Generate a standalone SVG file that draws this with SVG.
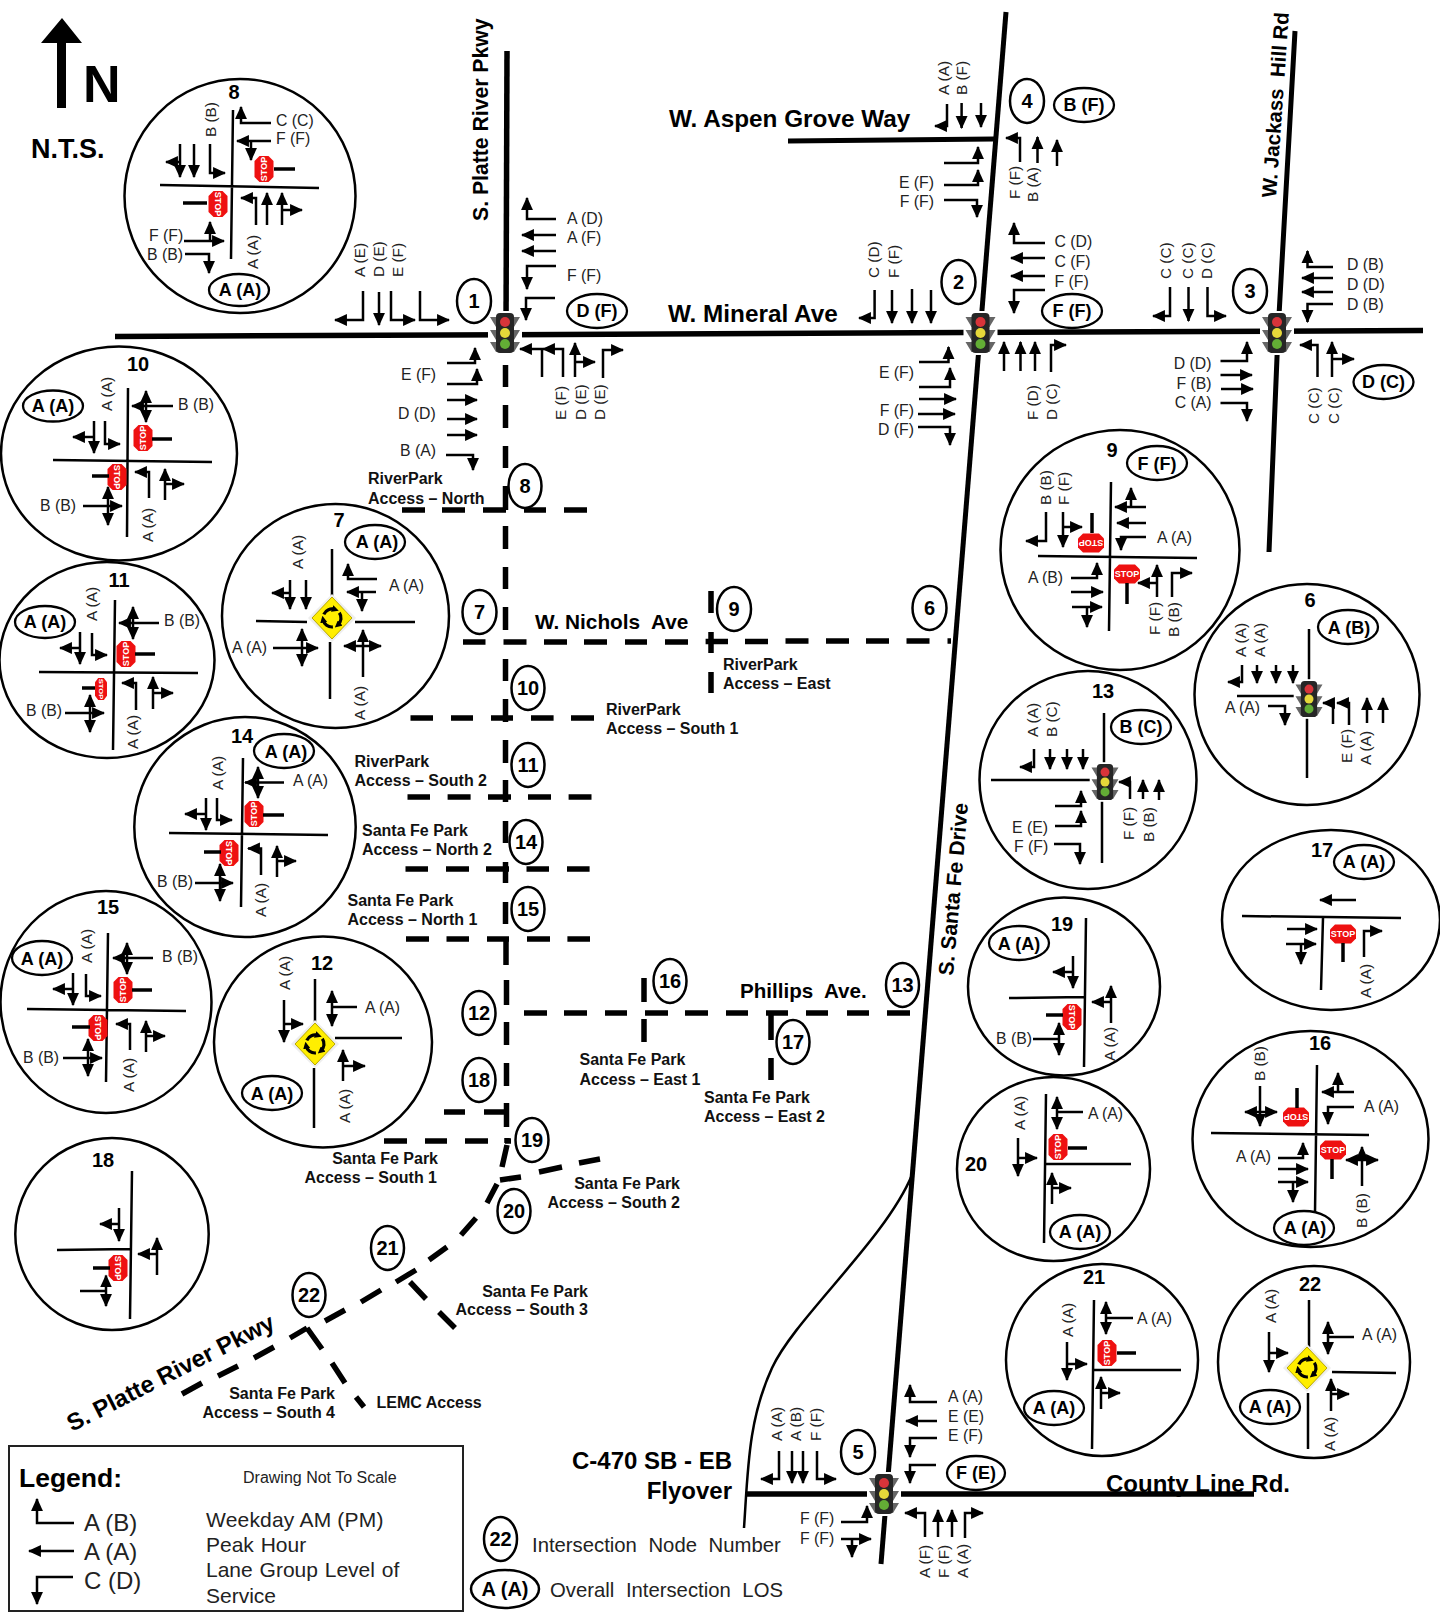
<svg xmlns="http://www.w3.org/2000/svg" width="1440" height="1612" viewBox="0 0 1440 1612">
<style>
text{font-family:"Liberation Sans",Arial,sans-serif;fill:#222}
.t{font-size:15.8px}
.e{font-size:15.8px;text-anchor:end}
.v{font-size:15.3px}
.b{font-size:16px;font-weight:bold;fill:#111}
.be{font-size:16px;font-weight:bold;fill:#111;text-anchor:end}
.los{font-size:18px;font-weight:bold;text-anchor:middle;fill:#000}
.nd{font-size:20px;font-weight:bold;text-anchor:middle;fill:#000}
.rn{font-weight:bold;fill:#000}
.lg{font-size:21px}
.st{font-size:9px;font-weight:bold;fill:#fff;text-anchor:middle;dominant-baseline:central}
.a{fill:none;stroke:#000;stroke-width:2.5;marker-end:url(#h)}
.d{fill:none;stroke:#000;stroke-width:2.5;marker-end:url(#h);marker-start:url(#h)}
.r{fill:none;stroke:#000;stroke-width:2.5}
.p{fill:none;stroke:#000;stroke-width:3.5}
.o{fill:none;stroke:#000;stroke-width:2.3}
.c{fill:none;stroke:#000;stroke-width:2.5}
.f{fill:#fff;stroke:#000;stroke-width:2.5}
.m{fill:none;stroke:#000;stroke-width:5.5}
.da{fill:none;stroke:#000;stroke-width:5.5}
</style>
<defs>
<marker id="h" markerUnits="userSpaceOnUse" markerWidth="13" markerHeight="13" viewBox="0 0 12 12" refX="11" refY="6" orient="auto-start-reverse"><path d="M0,.5L12,6L0,11.5z"/></marker>
<marker id="mh" markerUnits="userSpaceOnUse" markerWidth="7" markerHeight="7" viewBox="0 0 7 7" refX="3" refY="3.5" orient="auto"><path d="M0,0L7,3.5L0,7z"/></marker>
<polygon id="oc" fill="#ee1111" points="-13,-4.5 -8,-9.5 8,-9.5 13,-4.5 13,4.5 8,9.5 -8,9.5 -13,4.5"/>
<g id="tl">
<rect x="-17" y="-22" width="34" height="44" fill="#fff"/>
<path d="M-15,-16H15L9,-6H-9zM-15,-3H15L9,7H-9zM-15,9H15L9,19H-9z" fill="#666"/>
<rect x="-9" y="-20" width="18" height="40" rx="4" fill="#262626"/>
<circle cy="-11" r="5" fill="#d8343a"/><circle cy="0" r="5" fill="#e6d83a"/><circle cy="11" r="5" fill="#63ad35"/>
</g>
<path id="ra" d="M-8.2,-3.7A9,9 0 0 1 3,-8.5" fill="none" stroke="#000" stroke-width="3.2" marker-end="url(#mh)"/>
<g id="rb">
<polygon points="0,-24 24,0 0,24 -24,0" fill="#eee"/>
<polygon points="0,-21 20,0 0,21 -20,0" fill="#ffee00" stroke="#b9a800"/>
<use href="#ra"/><use href="#ra" transform="rotate(120)"/><use href="#ra" transform="rotate(240)"/>
</g>
</defs>
<rect width="1440" height="1612" fill="#fff"/>

<g id="north">
<path d="M62,18L82,43H66V108H57V43H41z"/>
<text class="rn" x="83" y="102" style="font-size:52px">N</text>
<text class="rn" x="31" y="158" style="font-size:27px">N.T.S.</text>
</g>

<text class="rn" transform="translate(1106,1492)" style="font-size:24px">County Line Rd.</text>

<g id="connectors">
<path class="m" d="M115,336.5L1423,330.5" />
<path class="m" d="M507,51L506,330"/>
<path class="m" d="M1006,12L881,1564" style="stroke-width:5"/>
<path class="m" d="M1295,31L1278,333L1269,552" style="stroke-width:5"/>
<path class="m" d="M788,141L994,139" style="stroke-width:5"/>
<path class="m" d="M747,1494H1254"/>
<path class="r" d="M744,1528C748,1470 748,1420 772,1368C795,1318 885,1240 912,1175"/>
<path class="da" d="M505.5,365V387M505.5,405V428M505.5,446V468M505.5,486V510M505.5,526V549M505.5,567V589M505.5,607V630M505.5,659V681M505.5,699V722M505.5,740V763M505.5,780V802M505.5,821V843M505.5,862V883M505.5,902V924M506,939V965M506.5,980V1005M506.5,1022V1045M506.5,1063V1086M506.5,1103V1127M507,1138V1143M507,1145L502,1167"/>
<path class="da" d="M402,510H425M442,510H465M483,510H506M524,510H546M564,510H587"/>
<path class="da" d="M463,642H485.5M503.5,642H526.5M544,642H567M584,642H607M625,642H647M665,642H688M705.6,641.500H728M745,641.500H768M785.5,641H808.500M826,641H849M866,641H889M906.500,641H929.500M947.500,641H951"/>
<path class="da" d="M711,591V613M711,632V653M711,672V693"/>
<path class="da" d="M410.500,718H433M451,718H473M491,718H513M531,718H553.600M571,718H594"/>
<path class="da" d="M407.500,797H430M447.600,797H470.600M488,797H511M528,797H551M568.600,797H591.500"/>
<path class="da" d="M405.500,869H428M446,869H469M486,869H509M526.500,869H549M567,869H589.600"/>
<path class="da" d="M406,939H429M446.500,939H469M487,939H509M527,939H550M567.400,939H590"/>
<path class="da" d="M524,1013H547M564,1013H587M605,1013H627M645,1013H668M685,1013H708M726,1013H748M766,1013H788M806,1013H828M847,1013H869M887,1013H910"/>
<path class="da" d="M644,978V1002M644,1019V1042"/>
<path class="da" d="M771,1014V1040M771,1058V1080"/>
<path class="da" d="M444,1112H465M484,1112H506"/>
<path class="da" d="M384,1141H407M425,1141H447M465,1141H488M505,1141H511"/>
<path class="da" d="M500,1180L521,1177M539,1172L562,1167M579,1163L600,1159"/>
<path class="da" d="M497,1184L487,1203M476,1218L461,1235M447,1247L429,1260M416,1270L396,1282M381,1290L361,1302M345,1310L325,1321M307,1328L290,1338M274,1347L254,1358M238,1366L218,1376M202,1383L182,1394"/>
<path class="da" d="M307,1328L322,1349M332,1363L345,1383M356,1397L364,1407"/>
<path class="da" d="M410,1282L426,1299M439,1312L455,1328"/>
</g>

<g id="road-labels">
<text class="rn" transform="translate(488,221) rotate(-90)" style="font-size:21.2px">S. Platte River Pkwy</text>
<text class="rn" x="668" y="322" style="font-size:24.3px">W. Mineral Ave</text>
<text class="rn" x="669" y="127" style="font-size:24.3px">W. Aspen Grove Way</text>
<text class="rn" transform="translate(1276,198) rotate(-86)" style="font-size:20.5px" xml:space="preserve">W. Jackass  Hill Rd</text>
<text class="rn" transform="translate(953,976) rotate(-85)" style="font-size:21.2px">S. Santa Fe Drive</text>
<text class="rn" x="535" y="629" style="font-size:20.8px" xml:space="preserve">W. Nichols  Ave</text>
<text class="rn" x="740" y="998" style="font-size:20.6px" xml:space="preserve">Phillips  Ave.</text>
<text class="rn" transform="translate(72,1432) rotate(-27)" style="font-size:24px">S. Platte River Pkwy</text>
<text class="rn" x="732" y="1469" text-anchor="end" style="font-size:24px">C-470 SB - EB</text>
<text class="rn" x="732" y="1499" text-anchor="end" style="font-size:24px">Flyover</text>
<text class="b" x="368" y="484">RiverPark</text><text class="b" x="368" y="504">Access – North</text>
<text class="b" x="723" y="670">RiverPark</text><text class="b" x="723" y="689">Access – East</text>
<text class="b" x="606" y="715">RiverPark</text><text class="b" x="606" y="734">Access – South 1</text>
<text class="b" x="354.500" y="767">RiverPark</text><text class="b" x="354.500" y="786">Access – South 2</text>
<text class="b" x="362" y="836">Santa Fe Park</text><text class="b" x="362" y="855">Access – North 2</text>
<text class="b" x="347.500" y="906">Santa Fe Park</text><text class="b" x="347.500" y="925">Access – North 1</text>
<text class="b" x="579.500" y="1065">Santa Fe Park</text><text class="b" x="579.500" y="1085">Access – East 1</text>
<text class="b" x="704" y="1103">Santa Fe Park</text><text class="b" x="704" y="1122">Access – East 2</text>
<text class="be" x="438" y="1164">Santa Fe Park</text><text class="be" x="437" y="1183">Access – South 1</text>
<text class="be" x="680" y="1189">Santa Fe Park</text><text class="be" x="680" y="1208">Access – South 2</text>
<text class="be" x="588" y="1297">Santa Fe Park</text><text class="be" x="588" y="1315">Access – South 3</text>
<text class="be" x="335" y="1399">Santa Fe Park</text><text class="be" x="335" y="1418">Access – South 4</text>
<text class="b" x="376.500" y="1408">LEMC Access</text>
</g>

<g id="lights">
<use href="#tl" transform="translate(505,333)"/>
<use href="#tl" transform="translate(980.500,333)"/>
<use href="#tl" transform="translate(1277,333)"/>
<use href="#tl" transform="translate(884,1494)"/>
</g>

<g id="n1"><ellipse class="f" cx="474" cy="301" rx="17" ry="22"/><text class="nd" x="474" y="308">1</text></g>
<g id="n2"><ellipse class="f" cx="958.500" cy="282" rx="17" ry="22"/><text class="nd" x="958.500" y="289">2</text></g>
<g id="n3"><ellipse class="f" cx="1250" cy="291" rx="17" ry="22"/><text class="nd" x="1250" y="298">3</text></g>
<g id="n4"><ellipse class="f" cx="1027" cy="101" rx="17" ry="22"/><text class="nd" x="1027" y="108">4</text></g>
<g id="n5"><ellipse class="f" cx="858" cy="1452" rx="17" ry="22"/><text class="nd" x="858" y="1459">5</text></g>
<g id="n6"><ellipse class="f" cx="929.500" cy="608" rx="17" ry="22"/><text class="nd" x="929.500" y="615">6</text></g>
<g id="n7"><ellipse class="f" cx="479.500" cy="612" rx="17" ry="22"/><text class="nd" x="479.500" y="619">7</text></g>
<g id="n8"><ellipse class="f" cx="525" cy="486" rx="16.500" ry="22"/><text class="nd" x="525" y="493">8</text></g>
<g id="n9"><ellipse class="f" cx="734" cy="609" rx="17" ry="22"/><text class="nd" x="734" y="616">9</text></g>
<g id="n10"><ellipse class="f" cx="528" cy="688" rx="16.500" ry="22"/><text class="nd" x="528" y="695">10</text></g>
<g id="n11"><ellipse class="f" cx="528" cy="765" rx="16.500" ry="22"/><text class="nd" x="528" y="772">11</text></g>
<g id="n12"><ellipse class="f" cx="479" cy="1013" rx="16.500" ry="22"/><text class="nd" x="479" y="1020">12</text></g>
<g id="n13"><ellipse class="f" cx="902.500" cy="985" rx="16.500" ry="22"/><text class="nd" x="902.500" y="992">13</text></g>
<g id="n14"><ellipse class="f" cx="526" cy="842" rx="16.500" ry="22"/><text class="nd" x="526" y="849">14</text></g>
<g id="n15"><ellipse class="f" cx="528" cy="909" rx="16.500" ry="22"/><text class="nd" x="528" y="916">15</text></g>
<g id="n16"><ellipse class="f" cx="670" cy="981" rx="16.500" ry="22"/><text class="nd" x="670" y="988">16</text></g>
<g id="n17"><ellipse class="f" cx="793" cy="1042" rx="16.500" ry="22"/><text class="nd" x="793" y="1049">17</text></g>
<g id="n18"><ellipse class="f" cx="479" cy="1080" rx="16.500" ry="22"/><text class="nd" x="479" y="1087">18</text></g>
<g id="n19"><ellipse class="f" cx="532" cy="1140" rx="16.500" ry="22"/><text class="nd" x="532" y="1147">19</text></g>
<g id="n20"><ellipse class="f" cx="514" cy="1211" rx="16.500" ry="22"/><text class="nd" x="514" y="1218">20</text></g>
<g id="n21"><ellipse class="f" cx="387.500" cy="1248" rx="16.500" ry="22"/><text class="nd" x="387.500" y="1255">21</text></g>
<g id="n22"><ellipse class="f" cx="309" cy="1295" rx="16.500" ry="22"/><text class="nd" x="309" y="1302">22</text></g>

<g id="map-i1">
<path class="a" d="M556 219H527V198"/><path class="a" d="M556 235H522"/><path class="a" d="M556 251H522"/><path class="a" d="M556 266H527V289"/><path class="a" d="M555 298H526V320"/>
<text class="t" x="567" y="224">A (D)</text><text class="t" x="567" y="243">A (F)</text><text class="t" x="567" y="281">F (F)</text>
<ellipse class="o" cx="597" cy="311" rx="30" ry="17"/><text class="los" x="597" y="317">D (F)</text>
<path class="a" d="M363 291V320H335"/><path class="a" d="M379 292V325"/><path class="a" d="M391 291V320H415"/><path class="a" d="M420 291V320H449"/>
<text class="v" transform="translate(365,277) rotate(-90)">A (E)</text><text class="v" transform="translate(384,277) rotate(-90)">D (E)</text><text class="v" transform="translate(403,277) rotate(-90)">E (F)</text>
<path class="a" d="M542 377V349H520"/><path class="a" d="M563 377V349H543"/><path class="a" d="M575 377V343"/><path class="a" d="M575 362H595"/><path class="a" d="M603 378V350H623"/>
<text class="v" transform="translate(566,420) rotate(-90)">E (F)</text><text class="v" transform="translate(586,420) rotate(-90)">D (E)</text><text class="v" transform="translate(605,420) rotate(-90)">D (E)</text>
<path class="a" d="M447 363H475V348"/><path class="a" d="M447 384H477V369"/><path class="a" d="M447 400H477"/><path class="a" d="M447 419H477"/><path class="a" d="M447 435H477"/><path class="a" d="M446 455H473V470"/>
<text class="t" x="401" y="380">E (F)</text><text class="t" x="398" y="419">D (D)</text><text class="t" x="400" y="456">B (A)</text>
</g>

<g id="map-i2">
<text class="v" transform="translate(879,278) rotate(-90)">C (D)</text><text class="v" transform="translate(899,278) rotate(-90)">F (F)</text>
<path class="a" d="M874.600 290V318H859"/><path class="a" d="M892 290V323"/><path class="a" d="M912 289V323"/><path class="a" d="M931 290V323"/>
<path class="a" d="M1045 243H1014V223"/><path class="a" d="M1045 258H1011"/><path class="a" d="M1045 276H1011"/><path class="a" d="M1045 290H1014V313"/>
<text class="t" x="1054.500" y="247">C (D)</text><text class="t" x="1054.500" y="267">C (F)</text><text class="t" x="1054.500" y="287">F (F)</text>
<ellipse class="o" cx="1072" cy="311" rx="30" ry="17"/><text class="los" x="1072" y="317">F (F)</text>
<path class="a" d="M1004 371V342"/><path class="a" d="M1020.500 371V342"/><path class="a" d="M1035 371V342"/><path class="a" d="M1051 372V345H1066"/>
<text class="v" transform="translate(1038,420) rotate(-90)">F (D)</text><text class="v" transform="translate(1057,420) rotate(-90)">D (C)</text>
<path class="a" d="M919 362H948.500V347"/><path class="a" d="M919 387H950V368"/><path class="a" d="M919 399H956"/><path class="a" d="M918 414H955"/><path class="a" d="M918 427H950V445"/>
<text class="e" x="914" y="378">E (F)</text><text class="e" x="914" y="416">F (F)</text><text class="e" x="914" y="435">D (F)</text>
</g>

<g id="map-i3">
<path class="a" d="M1170 287V316H1153"/><path class="a" d="M1188.500 287V321"/><path class="a" d="M1207.500 287V316H1226"/>
<text class="v" transform="translate(1171,279) rotate(-90)">C (C)</text><text class="v" transform="translate(1193,279) rotate(-90)">C (C)</text><text class="v" transform="translate(1211.500,279) rotate(-90)">D (C)</text>
<path class="a" d="M1333 267H1307.500V251"/><path class="a" d="M1333 278H1302"/><path class="a" d="M1333 292H1302"/><path class="a" d="M1333 304H1307.500V322"/>
<text class="t" x="1347" y="270">D (B)</text><text class="t" x="1347" y="290">D (D)</text><text class="t" x="1347" y="310">D (B)</text>
<path class="a" d="M1317.500 377V345H1300"/><path class="a" d="M1332 377V342"/><path class="a" d="M1332 359H1354"/>
<text class="v" transform="translate(1319,424) rotate(-90)">C (C)</text><text class="v" transform="translate(1339,424) rotate(-90)">C (C)</text>
<ellipse class="o" cx="1383.500" cy="382" rx="30" ry="17"/><text class="los" x="1383.500" y="388">D (C)</text>
<path class="a" d="M1220.500 361H1247V342"/><path class="a" d="M1220.500 375H1252"/><path class="a" d="M1221 389H1253"/><path class="a" d="M1220.500 403H1247V421"/>
<text class="e" x="1211.500" y="369">D (D)</text><text class="e" x="1211.500" y="389">F (B)</text><text class="e" x="1211.500" y="408">C (A)</text>
</g>

<g id="map-i4">
<path class="a" d="M947 104V126H935"/><path class="a" d="M961.600 103V128"/><path class="a" d="M981 103V127"/>
<text class="v" transform="translate(949,95) rotate(-90)">A (A)</text><text class="v" transform="translate(967,95) rotate(-90)">B (F)</text>
<ellipse class="o" cx="1084" cy="105" rx="30" ry="17"/><text class="los" x="1084" y="111">B (F)</text>
<path class="a" d="M1020 162V138H1006"/><path class="a" d="M1037.500 163V137"/><path class="a" d="M1057 166V140"/>
<text class="v" transform="translate(1020,199) rotate(-90)">F (F)</text><text class="v" transform="translate(1038,202) rotate(-90)">B (A)</text>
<path class="a" d="M944 163H978V147"/><path class="a" d="M944 185H978V170"/><path class="a" d="M944 200H977V217"/>
<text class="e" x="934" y="188">E (F)</text><text class="e" x="934" y="207">F (F)</text>
</g>

<g id="map-i5">
<path class="a" d="M937 1402H910V1385"/><path class="a" d="M937 1421H906"/><path class="a" d="M937 1438H910V1457"/><path class="a" d="M936 1465H910V1483"/>
<text class="t" x="948" y="1402">A (A)</text><text class="t" x="948" y="1422">E (E)</text><text class="t" x="948" y="1441">E (F)</text>
<ellipse class="o" cx="976" cy="1473" rx="29" ry="17"/><text class="los" x="976" y="1479">F (E)</text>
<path class="a" d="M779 1451V1479H761"/><path class="a" d="M792 1451V1483"/><path class="a" d="M803 1451V1483"/><path class="a" d="M817 1451V1479H836"/>
<text class="v" transform="translate(782,1441) rotate(-90)">A (A)</text><text class="v" transform="translate(801,1441) rotate(-90)">A (B)</text><text class="v" transform="translate(821,1441) rotate(-90)">F (F)</text>
<path class="a" d="M841 1522H867V1506"/><path class="a" d="M841 1539H871"/><path class="a" d="M852 1539V1557"/>
<text class="t" x="800" y="1524">F (F)</text><text class="t" x="800" y="1544">F (F)</text>
<path class="a" d="M925 1537V1513H905"/><path class="a" d="M938 1537V1510"/><path class="a" d="M952 1537V1510"/><path class="a" d="M965 1538V1513H983"/>
<text class="v" transform="translate(930,1578) rotate(-90)">A (F)</text><text class="v" transform="translate(949,1578) rotate(-90)">F (F)</text><text class="v" transform="translate(968,1578) rotate(-90)">A (A)</text>
</g>

<g id="i8">
<ellipse class="c" cx="240" cy="196" rx="115.500" ry="117"/>
<text class="nd" x="234" y="99">8</text>
<path class="r" d="M233 110L231 259M160 185L319 188"/>
<path class="a" d="M271 123H241V107"/><text class="t" x="276" y="126">C (C)</text>
<path class="a" d="M271 141H237"/><path class="a" d="M251 141V160"/><text class="t" x="276" y="144">F (F)</text>
<g transform="translate(264,169) rotate(-90)"><use href="#oc"/><text class="st">STOP</text></g><path class="p" d="M274 169H295"/>
<path class="a" d="M180 144V177"/><path class="a" d="M180 162H166"/><path class="a" d="M194 144V177"/><path class="a" d="M210 144V173H225"/>
<text class="v" transform="translate(216,137) rotate(-90)">B (B)</text>
<g transform="translate(218,204) rotate(90)"><use href="#oc"/><text class="st">STOP</text></g><path class="p" d="M183 203H207"/>
<path class="a" d="M256 225V198H241"/><path class="a" d="M267 225V193"/><path class="a" d="M282 225V193"/><path class="a" d="M282 210H302"/>
<text class="v" transform="translate(258,269) rotate(-90)">A (A)</text>
<text class="t" x="149" y="241">F (F)</text><text class="t" x="147" y="260">B (B)</text>
<path class="a" d="M184 241H224"/><path class="a" d="M210 241V222"/><path class="a" d="M185 254H209V273"/>
<ellipse class="o" cx="239" cy="290" rx="30" ry="16"/><text class="los" x="240" y="296">A (A)</text>
</g>

<g id="i10">
<ellipse class="c" cx="119" cy="453.500" rx="118" ry="107"/>
<text class="nd" x="138" y="371">10</text>
<path class="r" d="M128 388L127 537M53 460L212 462"/>
<ellipse class="o" cx="53" cy="406" rx="30" ry="15.500"/><text class="los" x="53" y="412">A (A)</text>
<text class="v" transform="translate(112,411) rotate(-90)">A (A)</text>
<text class="t" x="178" y="410">B (B)</text><path class="a" d="M173 406H132"/><path class="d" d="M146 391V422"/>
<g transform="translate(143,438) rotate(-90)"><use href="#oc"/><text class="st">STOP</text></g><path class="p" d="M152 439H172"/>
<path class="a" d="M94 421V453"/><path class="a" d="M94 437H73"/><path class="a" d="M105 421V444H120"/>
<g transform="translate(117,477) rotate(90)"><use href="#oc"/><text class="st">STOP</text></g><path class="p" d="M92 476H109"/>
<path class="a" d="M149 498V472H135"/><path class="a" d="M165 500V469"/><path class="a" d="M165 484H184"/>
<text class="v" transform="translate(153,542) rotate(-90)">A (A)</text>
<text class="t" x="40" y="511">B (B)</text><path class="a" d="M83 506H122"/><path class="d" d="M108 487V525"/>
</g>

<g id="i11">
<ellipse class="c" cx="107" cy="660" rx="107.500" ry="98"/>
<text class="nd" x="119" y="587">11</text>
<path class="r" d="M115 600L113 750M39 672L198 673"/>
<ellipse class="o" cx="45" cy="622" rx="30" ry="16"/><text class="los" x="45" y="628">A (A)</text>
<text class="v" transform="translate(97,621) rotate(-90)">A (A)</text>
<text class="t" x="164" y="626">B (B)</text><path class="a" d="M159 623H119"/><path class="d" d="M133 607V639"/>
<g transform="translate(126,654) rotate(-90)"><use href="#oc"/><text class="st">STOP</text></g><path class="p" d="M135 654H155"/>
<path class="a" d="M80 632V664"/><path class="a" d="M80 648H60"/><path class="a" d="M92 633V655H107"/>
<g transform="translate(101,689) rotate(90) scale(.85,.63)"><use href="#oc"/><text class="st">STOP</text></g><path class="p" d="M82 688H95"/>
<path class="a" d="M136 710V683H122"/><path class="a" d="M153 709V677"/><path class="a" d="M153 693H173"/>
<text class="v" transform="translate(138,749) rotate(-90)">A (A)</text>
<text class="t" x="26" y="716">B (B)</text><path class="a" d="M65 713H104"/><path class="d" d="M90 695V732"/>
</g>

<g id="i7">
<ellipse class="c" cx="335.500" cy="616" rx="113.500" ry="112"/>
<text class="nd" x="339" y="527">7</text>
<ellipse class="o" cx="375" cy="542" rx="30" ry="17"/><text class="los" x="377" y="548">A (A)</text>
<path class="r" d="M332 549V596M330 642V699M256 621L307 622M355 622H415"/>
<use href="#rb" transform="translate(332,618)"/>
<text class="v" transform="translate(303,569) rotate(-90)">A (A)</text>
<path class="a" d="M377 579H348V564"/><path class="a" d="M376 592H347"/><path class="a" d="M362 592V611"/><text class="t" x="389" y="591">A (A)</text>
<path class="a" d="M290 580V609"/><path class="a" d="M290 593H272"/><path class="a" d="M306 580V609"/>
<text class="t" x="232" y="653">A (A)</text><path class="a" d="M273 648H318"/><path class="d" d="M302 629V666"/>
<path class="a" d="M363 677V630"/><path class="d" d="M344 646H381"/>
<text class="v" transform="translate(365,720) rotate(-90)">A (A)</text>
</g>

<g id="i14">
<ellipse class="c" cx="245" cy="827" rx="110.700" ry="110"/>
<text class="nd" x="242" y="743">14</text>
<ellipse class="o" cx="284" cy="751" rx="30" ry="17"/><text class="los" x="286" y="758">A (A)</text>
<text class="v" transform="translate(223,790) rotate(-90)">A (A)</text>
<path class="r" d="M243 758L241 907M169 833L328 835"/>
<text class="t" x="293" y="786">A (A)</text><path class="a" d="M284 782.500H245"/><path class="d" d="M258 767V798"/>
<g transform="translate(254,814) rotate(-90)"><use href="#oc"/><text class="st">STOP</text></g><path class="p" d="M263 815H284"/>
<path class="a" d="M206 798V830"/><path class="a" d="M206 814H185"/><path class="a" d="M217 798V820H232"/>
<g transform="translate(229,853) rotate(90)"><use href="#oc"/><text class="st">STOP</text></g><path class="p" d="M204 852H221"/>
<path class="a" d="M261 875V848.500H248"/><path class="a" d="M277 877V846"/><path class="a" d="M277 861H296"/>
<text class="v" transform="translate(266,917) rotate(-90)">A (A)</text>
<text class="t" x="157" y="887">B (B)</text><path class="a" d="M195 883H233"/><path class="d" d="M220 864V901"/>
</g>

<g id="i15">
<ellipse class="c" cx="106" cy="1002" rx="105.500" ry="111"/>
<text class="nd" x="108" y="914">15</text>
<ellipse class="o" cx="42" cy="958" rx="30" ry="17"/><text class="los" x="42" y="965">A (A)</text>
<text class="v" transform="translate(92,963) rotate(-90)">A (A)</text>
<path class="r" d="M108 933L106 1082M27 1009L186 1011"/>
<text class="t" x="162" y="962">B (B)</text><path class="a" d="M153 958H113"/><path class="d" d="M127 943V974"/>
<g transform="translate(123,990) rotate(-90)"><use href="#oc"/><text class="st">STOP</text></g><path class="p" d="M132 990H152"/>
<path class="a" d="M73 973V1005"/><path class="a" d="M73 989H53"/><path class="a" d="M86 974V996H101"/>
<g transform="translate(98,1028) rotate(90)"><use href="#oc"/><text class="st">STOP</text></g><path class="p" d="M72 1027H90"/>
<path class="a" d="M130 1050V1024H116"/><path class="a" d="M146 1052V1021"/><path class="a" d="M146 1036H165"/>
<text class="v" transform="translate(134,1092) rotate(-90)">A (A)</text>
<text class="t" x="23" y="1063">B (B)</text><path class="a" d="M63 1058H102"/><path class="d" d="M88 1039V1076"/>
</g>

<g id="i12">
<ellipse class="c" cx="323" cy="1042" rx="109" ry="105.500"/>
<text class="nd" x="322" y="970">12</text>
<text class="v" transform="translate(290,990) rotate(-90)">A (A)</text>
<path class="r" d="M315 979V1022.500M314 1068V1128M335 1038H402"/>
<use href="#rb" transform="translate(315,1044)"/>
<text class="t" x="365" y="1013">A (A)</text><path class="r" d="M357 1007H332"/><path class="d" d="M332 991V1026"/>
<path class="a" d="M284 1000V1042"/><path class="a" d="M284 1024H303"/>
<path class="a" d="M343 1081V1050"/><path class="a" d="M343 1066H365"/>
<text class="v" transform="translate(350,1123) rotate(-90)">A (A)</text>
<ellipse class="o" cx="272" cy="1093" rx="30" ry="17"/><text class="los" x="272" y="1100">A (A)</text>
</g>

<g id="i18">
<ellipse class="c" cx="112" cy="1234" rx="96.700" ry="96"/>
<text class="nd" x="103" y="1167">18</text>
<path class="r" d="M132 1171L130 1319M57 1250L131 1249"/>
<path class="a" d="M119 1208V1241"/><path class="a" d="M119 1224H100"/>
<path class="a" d="M157 1275V1238"/><path class="a" d="M157 1254H138"/>
<g transform="translate(118,1268) rotate(90)"><use href="#oc"/><text class="st">STOP</text></g><path class="p" d="M93 1268H110"/>
<path class="r" d="M80 1291H106"/><path class="d" d="M106 1275.500V1306"/>
</g>

<g id="i9">
<ellipse class="c" cx="1120" cy="550" rx="119.500" ry="120"/>
<text class="nd" x="1112" y="457">9</text>
<ellipse class="o" cx="1157" cy="463" rx="30" ry="17"/><text class="los" x="1157" y="470">F (F)</text>
<text class="v" transform="translate(1051,505) rotate(-90)">B (B)</text><text class="v" transform="translate(1069,505) rotate(-90)">F (F)</text>
<path class="r" d="M1111 482L1109 631M1038 556L1197 558"/>
<path class="a" d="M1046 512V541H1026"/><path class="a" d="M1063 512V547"/><path class="a" d="M1063 527H1082"/>
<g transform="translate(1091,543) rotate(180)"><use href="#oc"/><text class="st">STOP</text></g><path class="p" d="M1092 513V533"/>
<path class="a" d="M1146 507H1115"/><path class="a" d="M1131 507V488"/><path class="a" d="M1146 523H1117"/><path class="a" d="M1146 537H1121V550"/>
<text class="t" x="1157" y="543">A (A)</text>
<text class="t" x="1028" y="583">A (B)</text>
<path class="a" d="M1071 578H1097V563"/><path class="a" d="M1071 592H1103"/><path class="a" d="M1072 607H1102"/><path class="a" d="M1087 607V627"/>
<g transform="translate(1127,574)"><use href="#oc"/><text class="st">STOP</text></g><path class="p" d="M1127 583V604"/>
<path class="a" d="M1157 597V565"/><path class="a" d="M1157 583H1138"/><path class="a" d="M1172 597V573H1192"/>
<text class="v" transform="translate(1160,635) rotate(-90)">F (F)</text><text class="v" transform="translate(1179,637) rotate(-90)">B (B)</text>
</g>

<g id="i6">
<ellipse class="c" cx="1307" cy="694.500" rx="112.500" ry="110.500"/>
<text class="nd" x="1310" y="607">6</text>
<ellipse class="o" cx="1348" cy="627" rx="30" ry="17"/><text class="los" x="1349" y="634">A (B)</text>
<text class="v" transform="translate(1246,657) rotate(-90)">A (A)</text><text class="v" transform="translate(1265,657) rotate(-90)">A (A)</text>
<path class="r" d="M1309 629V682M1307 717V778M1237 696H1296"/>
<use href="#tl" transform="translate(1309,699) scale(.9)"/>
<path class="a" d="M1242 665V682H1228"/><path class="a" d="M1257 665V683"/><path class="a" d="M1276 665V683"/><path class="a" d="M1293 665V683"/>
<text class="t" x="1225" y="713">A (A)</text>
<path class="a" d="M1268 706H1285V725"/>
<path class="a" d="M1333 724V703H1323"/><path class="a" d="M1349 725V703H1337"/><path class="a" d="M1367 723V698"/><path class="a" d="M1383 723V698"/>
<text class="v" transform="translate(1352,763) rotate(-90)">E (F)</text><text class="v" transform="translate(1371,765) rotate(-90)">A (A)</text>
</g>

<g id="i13">
<ellipse class="c" cx="1088" cy="780" rx="108.500" ry="109"/>
<text class="nd" x="1103" y="698">13</text>
<ellipse class="o" cx="1141" cy="727" rx="30" ry="17"/><text class="los" x="1141" y="733">B (C)</text>
<text class="v" transform="translate(1038,737) rotate(-90)">A (A)</text><text class="v" transform="translate(1057,737) rotate(-90)">B (C)</text>
<path class="r" d="M1104 713V763M1102 800V863M991 780H1091"/>
<use href="#tl" transform="translate(1105,782) scale(.9)"/>
<path class="a" d="M1034 749V767H1020"/><path class="a" d="M1050 749V769"/><path class="a" d="M1067 749V769"/><path class="a" d="M1083 749V769"/>
<path class="a" d="M1130 799V782H1119"/><path class="a" d="M1143 799V780"/><path class="a" d="M1159 800V780"/>
<text class="v" transform="translate(1134,840) rotate(-90)">F (F)</text><text class="v" transform="translate(1154,842) rotate(-90)">B (B)</text>
<path class="a" d="M1055 806H1081V791"/><path class="a" d="M1055 826H1081V811"/><path class="a" d="M1054 844H1080V864"/>
<text class="t" x="1012" y="833">E (E)</text><text class="t" x="1014" y="852">F (F)</text>
</g>

<g id="i17">
<ellipse class="c" cx="1331" cy="920" rx="109" ry="90"/>
<text class="nd" x="1322" y="857">17</text>
<ellipse class="o" cx="1364" cy="862" rx="30" ry="17"/><text class="los" x="1364" y="868">A (A)</text>
<path class="a" d="M1356 900H1320"/>
<path class="r" d="M1242 916L1401 918M1323 918L1321 990"/>
<path class="a" d="M1287 929H1317"/><path class="a" d="M1286 944H1316"/><path class="a" d="M1301 944V964"/>
<g transform="translate(1343,934)"><use href="#oc"/><text class="st">STOP</text></g><path class="p" d="M1343 943V962"/>
<path class="a" d="M1364 957V931H1382"/>
<text class="v" transform="translate(1371,998) rotate(-90)">A (A)</text>
</g>

<g id="i19">
<ellipse class="c" cx="1064" cy="986.500" rx="96" ry="89"/>
<text class="nd" x="1062" y="931">19</text>
<ellipse class="o" cx="1019" cy="943" rx="30" ry="17"/><text class="los" x="1019" y="950">A (A)</text>
<path class="r" d="M1086 918L1084 1067M1009 998L1084 997"/>
<path class="a" d="M1073 956V988"/><path class="a" d="M1073 972H1053"/>
<path class="a" d="M1111 1023V986"/><path class="a" d="M1111 1002H1092"/>
<g transform="translate(1072,1017) rotate(90)"><use href="#oc"/><text class="st">STOP</text></g><path class="p" d="M1046 1015H1063"/>
<text class="t" x="996" y="1044">B (B)</text><path class="r" d="M1033 1039H1059"/><path class="d" d="M1059 1023V1055"/>
<text class="v" transform="translate(1115,1061) rotate(-90)">A (A)</text>
</g>

<g id="i20">
<ellipse class="c" cx="1053.500" cy="1169" rx="96.500" ry="92"/>
<text class="nd" x="976" y="1171">20</text>
<path class="r" d="M1046 1094L1044 1243M1046 1164H1131"/>
<text class="v" transform="translate(1025,1130) rotate(-90)">A (A)</text>
<text class="t" x="1088" y="1119">A (A)</text><path class="r" d="M1083 1112H1057"/><path class="d" d="M1057 1097V1129"/>
<g transform="translate(1058,1147) rotate(-90)"><use href="#oc"/><text class="st">STOP</text></g><path class="p" d="M1068 1148H1087"/>
<path class="a" d="M1018 1138V1176"/><path class="a" d="M1018 1158H1037"/>
<path class="a" d="M1052 1204V1173"/><path class="a" d="M1052 1188H1071"/>
<ellipse class="o" cx="1080" cy="1232" rx="30" ry="17"/><text class="los" x="1080" y="1238">A (A)</text>
</g>

<g id="i16">
<ellipse class="c" cx="1310.500" cy="1139" rx="118" ry="108"/>
<text class="nd" x="1320" y="1050">16</text>
<text class="v" transform="translate(1265,1081) rotate(-90)">B (B)</text>
<path class="r" d="M1317 1065L1315 1212M1211 1133L1369 1135"/>
<path class="a" d="M1260 1086V1126"/><path class="d" d="M1245 1112H1277"/>
<g transform="translate(1296,1117) rotate(180)"><use href="#oc"/><text class="st">STOP</text></g><path class="p" d="M1297 1088V1108"/>
<path class="a" d="M1354 1092H1322"/><path class="a" d="M1338 1092V1073"/><path class="a" d="M1354 1107H1328V1124"/>
<text class="t" x="1364" y="1112">A (A)</text>
<text class="t" x="1236" y="1162">A (A)</text>
<path class="a" d="M1278 1158H1303V1143"/><path class="a" d="M1278 1169H1308"/><path class="a" d="M1278 1182H1308"/><path class="a" d="M1293 1182V1202"/>
<g transform="translate(1333,1150)"><use href="#oc"/><text class="st">STOP</text></g><path class="p" d="M1332 1159V1179"/>
<path class="a" d="M1362 1186V1147"/><path class="d" d="M1346 1160H1378"/>
<text class="v" transform="translate(1367,1228) rotate(-90)">B (B)</text>
<ellipse class="o" cx="1304" cy="1228" rx="30" ry="17"/><text class="los" x="1305" y="1234">A (A)</text>
</g>

<g id="i21">
<ellipse class="c" cx="1102" cy="1360" rx="96" ry="96"/>
<text class="nd" x="1094" y="1284">21</text>
<path class="r" d="M1094 1300L1092 1449M1093 1370H1181"/>
<text class="v" transform="translate(1073,1337) rotate(-90)">A (A)</text>
<text class="t" x="1137" y="1324">A (A)</text><path class="r" d="M1133 1318H1106"/><path class="d" d="M1106 1302V1334"/>
<g transform="translate(1107,1353) rotate(-90)"><use href="#oc"/><text class="st">STOP</text></g><path class="p" d="M1117 1353H1136"/>
<path class="a" d="M1067 1342V1380"/><path class="a" d="M1067 1364H1087"/>
<path class="a" d="M1101 1409V1377"/><path class="a" d="M1101 1393H1120"/>
<ellipse class="o" cx="1054" cy="1408" rx="30" ry="17"/><text class="los" x="1054" y="1414">A (A)</text>
</g>

<g id="i22">
<ellipse class="c" cx="1314" cy="1362" rx="96" ry="96"/>
<text class="nd" x="1310" y="1291">22</text>
<text class="v" transform="translate(1276,1323) rotate(-90)">A (A)</text>
<path class="r" d="M1309 1300V1347M1308 1393V1449M1332 1372L1396 1373"/>
<use href="#rb" transform="translate(1307,1368)"/>
<text class="t" x="1362" y="1340">A (A)</text><path class="r" d="M1354 1337H1328"/><path class="d" d="M1328 1322V1354"/>
<path class="a" d="M1269 1332V1372"/><path class="a" d="M1269 1353H1288"/>
<path class="a" d="M1331 1411V1379"/><path class="a" d="M1331 1394H1349"/>
<text class="v" transform="translate(1335,1451) rotate(-90)">A (A)</text>
<ellipse class="o" cx="1270" cy="1407" rx="30" ry="17"/><text class="los" x="1270" y="1413">A (A)</text>
</g>

<g id="legend">
<rect x="9" y="1446" width="454" height="165" fill="none" stroke="#222" stroke-width="2"/>
<text class="rn" x="19" y="1487" style="font-size:26.5px">Legend:</text>
<text x="243" y="1483" style="font-size:16px">Drawing Not To Scale</text>
<path class="a" d="M74 1523H37V1499"/><path class="a" d="M74 1551H29"/><path class="a" d="M73 1577H37V1604"/>
<text x="84" y="1531" style="font-size:24px">A (B)</text><text x="84" y="1560" style="font-size:24px">A (A)</text><text x="84" y="1589" style="font-size:24px">C (D)</text>
<text class="lg" x="206" y="1527" style="letter-spacing:.2px">Weekday AM (PM)</text>
<text class="lg" x="206" y="1552" style="word-spacing:1px">Peak Hour</text>
<text class="lg" x="206" y="1577" style="word-spacing:1px">Lane Group Level of</text>
<text class="lg" x="206" y="1603">Service</text>
</g>
<g id="legend-node"><ellipse class="f" cx="500.500" cy="1539" rx="16.500" ry="22"/><text class="nd" x="500.500" y="1546">22</text></g>
<text x="532" y="1552" style="font-size:20.3px;word-spacing:6px">Intersection Node Number</text>
<g id="legend-los"><ellipse class="f" cx="505" cy="1589" rx="34" ry="19"/><text class="nd" x="505" y="1596">A (A)</text></g>
<text x="550" y="1597" style="font-size:20.3px;word-spacing:6px">Overall Intersection LOS</text>
</svg>
